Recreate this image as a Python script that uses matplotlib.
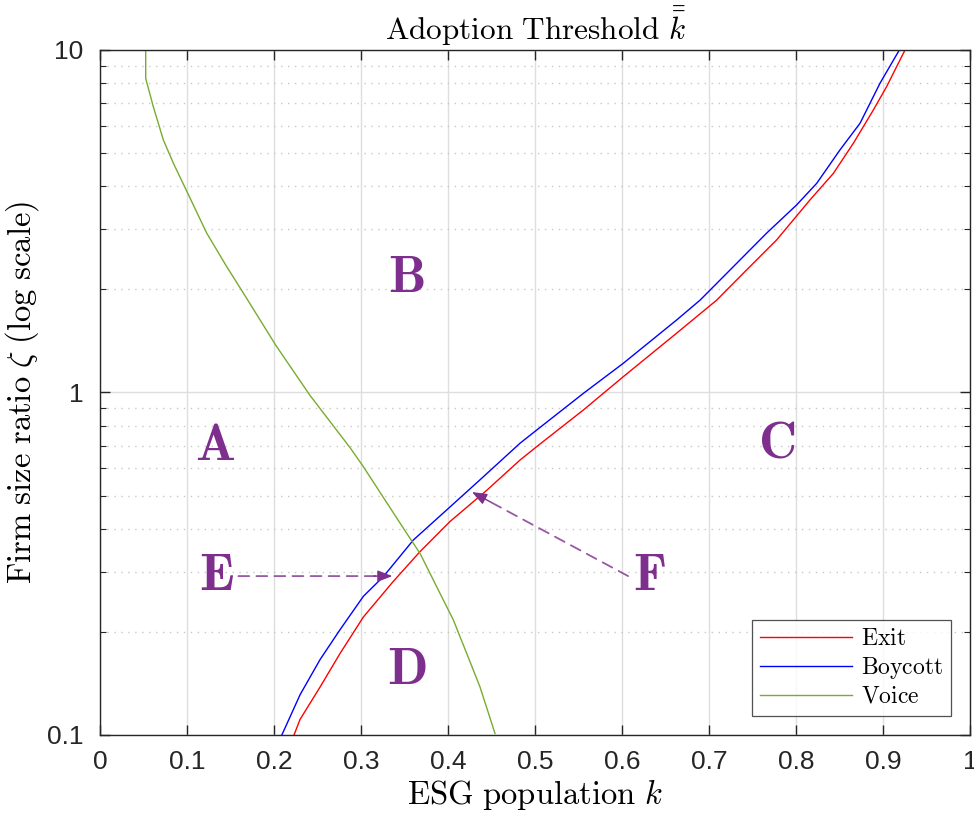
import matplotlib
matplotlib.use("Agg")
import matplotlib.pyplot as plt
from matplotlib.ticker import FixedLocator, LogLocator, NullFormatter

# curve values (k, zeta)
voice_k = [0.0525, 0.0525, 0.0613, 0.0728, 0.0843, 0.1027, 0.1226, 0.1456, 0.1648, 0.2023,
           0.2414, 0.2874, 0.3027, 0.3525, 0.3678, 0.3908, 0.406, 0.4215, 0.4368, 0.454]
voice_z = [10, 8.26, 6.82, 5.46, 4.67, 3.73, 2.92, 2.33, 1.95, 1.37,
           0.98, 0.69, 0.607, 0.388, 0.339, 0.259, 0.217, 0.173, 0.138, 0.101]

boycott_k = [0.209, 0.2299, 0.2529, 0.2759, 0.3027, 0.3257, 0.3602, 0.3985, 0.4368, 0.4828,
             0.502, 0.5556, 0.6015, 0.6628, 0.6897, 0.728, 0.7663, 0.8008, 0.8238, 0.8506,
             0.8736, 0.8966, 0.9188]
boycott_z = [0.1, 0.131, 0.166, 0.203, 0.254, 0.290, 0.371, 0.454, 0.556, 0.711,
             0.777, 0.994, 1.217, 1.628, 1.86, 2.33, 2.92, 3.53, 4.08, 5.11,
             6.11, 8.0, 10]

exit_k = [0.223, 0.2299, 0.2529, 0.2759, 0.3027, 0.3372, 0.3678, 0.4023, 0.4445, 0.4828,
          0.502, 0.5556, 0.6015, 0.6628, 0.7088, 0.7395, 0.7778, 0.8161, 0.8429, 0.8659,
          0.8889, 0.9042, 0.9253]
exit_z = [0.1, 0.111, 0.138, 0.173, 0.221, 0.281, 0.343, 0.42, 0.518, 0.635,
          0.695, 0.889, 1.112, 1.49, 1.86, 2.23, 2.79, 3.65, 4.36, 5.34,
          6.68, 7.82, 10]

region_labels = ["A", "B", "C", "D", "E", "F"]
region_k = [0.132, 0.352, 0.778, 0.353, 0.134, 0.632]
region_z = [0.70, 2.16, 0.71, 0.155, 0.291, 0.291]

# arrows: (start k, start zeta) -> (end k, end zeta)
arrow_start = [(0.159, 0.291), (0.607, 0.291)]
arrow_end = [(0.336, 0.291), (0.4276, 0.512)]

x_ticks = [0, 0.1, 0.2, 0.3, 0.4, 0.5, 0.6, 0.7, 0.8, 0.9, 1]
x_ticklabels = ["0", "0.1", "0.2", "0.3", "0.4", "0.5", "0.6", "0.7", "0.8", "0.9", "1"]
y_ticks = [0.1, 1, 10]
y_ticklabels = ["0.1", "1", "10"]

PURPLE = "#7E2F8E"
AX_COLOR = "#262626"

plt.rcParams["mathtext.fontset"] = "cm"
plt.rcParams["font.family"] = ["Liberation Sans", "DejaVu Sans"]

fig = plt.figure(figsize=(9.74, 8.19), dpi=100)
ax = fig.add_axes([0.1027, 0.1026, 0.8932, 0.8364])

ax.plot(exit_k, exit_z, color="red", lw=1.0, label=r"$\mathrm{Exit}$")
ax.plot(boycott_k, boycott_z, color="blue", lw=1.0, label=r"$\mathrm{Boycott}$")
ax.plot(voice_k, voice_z, color="#77AC30", lw=1.0, label=r"$\mathrm{Voice}$")

ax.set_yscale("log")
ax.set_xlim(0, 1)
ax.set_ylim(0.1, 10)

ax.xaxis.set_major_locator(FixedLocator(x_ticks))
ax.set_xticklabels(x_ticklabels)
ax.yaxis.set_major_locator(FixedLocator(y_ticks))
ax.set_yticklabels(y_ticklabels)
ax.yaxis.set_minor_locator(LogLocator(base=10, subs=range(2, 10)))
ax.yaxis.set_minor_formatter(NullFormatter())

ax.grid(which="major", color="#dedede", lw=1.0)
ax.grid(which="minor", axis="y", color="#c8c8c8", lw=1.0, linestyle=(0, (1, 4)))
ax.set_axisbelow(True)

ax.tick_params(which="both", direction="in", top=True, right=True, colors=AX_COLOR,
               labelsize=19)
ax.tick_params(which="major", length=7, width=1.0)
ax.tick_params(which="minor", length=4, width=0.8)
ax.tick_params(axis="x", pad=11)
ax.tick_params(axis="y", pad=12)
for sp in ax.spines.values():
    sp.set_color(AX_COLOR)
    sp.set_linewidth(1.0)

ax.set_title(r"$\mathrm{Adoption\ Threshold}\ \bar{\bar{k}}$", fontsize=22.5, pad=8)
ax.set_xlabel(r"$\mathrm{ESG\ population}\ k$", fontsize=23.5, labelpad=2)
ax.set_ylabel(r"$\mathrm{Firm\ size\ ratio}\ \zeta\ \mathrm{(log\ scale)}$", fontsize=23.5, labelpad=4)

for lab, kx, zy in zip(region_labels, region_k, region_z):
    ax.text(kx, zy, r"$\mathbf{%s}$" % lab, color=PURPLE, fontsize=38,
            ha="center", va="center")

for (k0, z0), (k1, z1) in zip(arrow_start, arrow_end):
    ax.annotate("", xy=(k1, z1), xytext=(k0, z0),
                arrowprops=dict(arrowstyle="-", color=PURPLE, lw=1.3, alpha=0.8,
                                linestyle=(0, (6, 4)), shrinkA=0, shrinkB=6))
    ax.annotate("", xy=(k1, z1), xytext=(k1 - (k1 - k0) * 0.12, z1 * (z0 / z1) ** 0.12),
                arrowprops=dict(arrowstyle="-|>,head_length=0.9,head_width=0.35",
                                color=PURPLE, lw=1.0, shrinkA=0, shrinkB=0))

leg = ax.legend(loc="lower right", fontsize=17, frameon=True, fancybox=False,
                edgecolor=AX_COLOR, handlelength=3.9, borderaxespad=0.8,
                labelspacing=0.2, handletextpad=0.35, borderpad=0.35)
leg.get_frame().set_linewidth(0.9)

fig.savefig("out.png", dpi=100)
